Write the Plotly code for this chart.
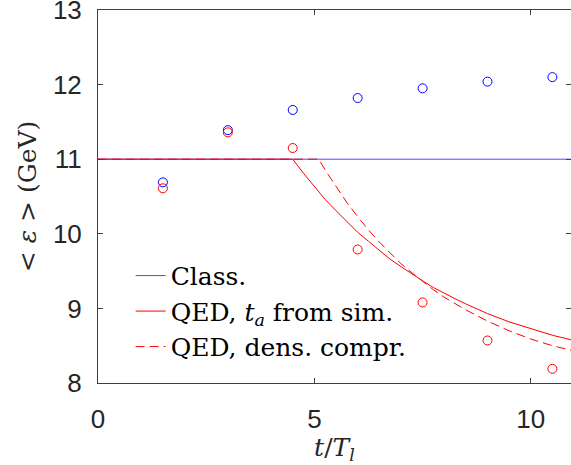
import plotly.graph_objects as go

# Simulation points
t_pts = [1.5, 3.0, 4.5, 6.0, 7.5, 9.0, 10.5]
eps_class_pts = [10.69, 11.39, 11.66, 11.82, 11.95, 12.04, 12.10]
eps_qed_pts = [10.61, 11.36, 11.15, 9.79, 9.08, 8.57, 8.19]

# Model curves
t_class = [0.0, 11.0]
eps_class = [11.0, 11.0]

t_qed_sim = [0.0, 4.5, 4.75, 5.0, 5.25, 5.5, 5.75, 6.0, 6.25, 6.5, 6.75, 7.0, 7.25, 7.5,
             7.75, 8.0, 8.25, 8.5, 9.0, 9.5, 10.0, 10.5, 11.0]
eps_qed_sim = [11.0, 11.0, 10.81, 10.63, 10.46, 10.31, 10.16, 10.02, 9.90, 9.78, 9.66, 9.56, 9.46, 9.37,
               9.28, 9.20, 9.13, 9.06, 8.93, 8.82, 8.73, 8.64, 8.57]

t_qed_dens = [0.0, 5.1, 5.3, 5.5, 5.75, 6.0, 6.25, 6.5, 6.75, 7.0, 7.25, 7.5,
              7.75, 8.0, 8.5, 9.0, 9.5, 10.0, 10.5, 11.0]
eps_qed_dens = [11.0, 11.0, 10.81, 10.63, 10.42, 10.23, 10.05, 9.89, 9.74, 9.60, 9.48, 9.36,
                9.25, 9.15, 8.98, 8.83, 8.70, 8.59, 8.50, 8.43]

x_ticks = [0, 5, 10]
y_ticks = [8, 9, 10, 11, 12, 13]

BLUE = "#0000ff"
BLUE_LINE = "#4a4aff"
RED = "#ff0000"
AX = "#404040"
TXT = "#262626"
serif = "DejaVu Serif"
sans = "Liberation Sans"

fig = go.Figure()
fig.add_trace(go.Scatter(x=t_class, y=eps_class, mode="lines", name="Class.",
                         line=dict(color=BLUE_LINE, width=1)))
fig.add_trace(go.Scatter(x=t_qed_sim, y=eps_qed_sim, mode="lines",
                         name="QED, <i>t</i><sub><i>a</i></sub> from sim.",
                         line=dict(color=RED, width=1)))
fig.add_trace(go.Scatter(x=t_qed_dens, y=eps_qed_dens, mode="lines",
                         name="QED, dens. compr.",
                         line=dict(color=RED, width=1, dash="9px,5px")))
fig.add_trace(go.Scatter(x=t_pts, y=eps_class_pts, mode="markers", showlegend=False,
                         marker=dict(symbol="circle-open", size=9, color=BLUE, line=dict(width=1))))
fig.add_trace(go.Scatter(x=t_pts, y=eps_qed_pts, mode="markers", showlegend=False,
                         marker=dict(symbol="circle-open", size=9, color=RED, line=dict(width=1))))

axis_common = dict(showgrid=False, zeroline=False, showline=True, linecolor=AX, linewidth=1,
                   mirror="ticks", ticks="inside", ticklen=5, tickcolor=AX, automargin=False,
                   ticklabeloverflow="allow",
                   tickfont=dict(family=sans, size=26, color=TXT))

fig.update_xaxes(range=[0, 10.93], tickvals=x_ticks, ticktext=[str(v) for v in x_ticks],
                 title=dict(text="<i>t</i>/<i>T</i><sub><i>l</i></sub>",
                            font=dict(family=serif, size=25, color=TXT), standoff=0),
                 ticklabelstandoff=13, **axis_common)
fig.update_yaxes(range=[8, 13], tickvals=y_ticks, ticktext=[str(v) for v in y_ticks],
                 title=dict(text="&lt; <i>ε</i> &gt; (GeV)",
                            font=dict(family=serif, size=25, color=TXT), standoff=9),
                 ticklabelstandoff=10, **axis_common)

fig.update_layout(
    width=571, height=465,
    margin=dict(l=98, r=0, t=10, b=82),
    paper_bgcolor="white", plot_bgcolor="white",
    showlegend=True,
    legend=dict(x=0.069, y=0.349, xanchor="left", yanchor="top",
                bgcolor="rgba(255,255,255,0)", borderwidth=0,
                font=dict(family=serif, size=25, color="black"),
                tracegroupgap=0),
)

fig.write_html("out.html", config={"displayModeBar": False},
               post_script="document.body.style.margin='0';document.body.style.overflow='hidden';")
